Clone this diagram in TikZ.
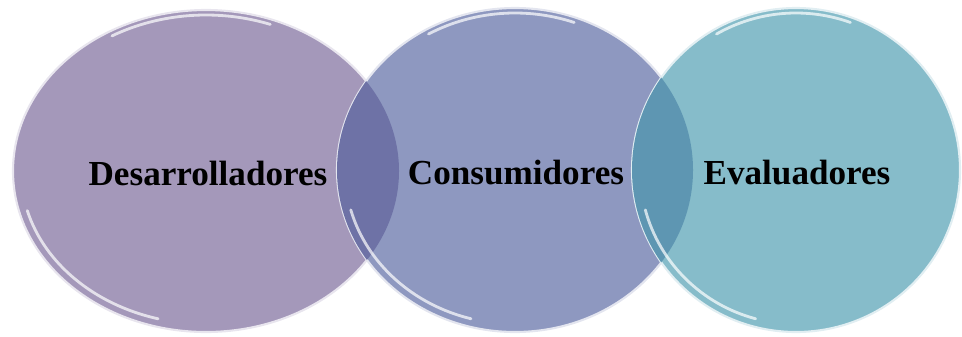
\documentclass[tikz,border=0pt]{standalone}
\usepackage{fontspec}
\setmainfont{Liberation Serif}
\usetikzlibrary{shapes.geometric}

\definecolor{devfill}{HTML}{A498BA}
\definecolor{consfill}{HTML}{8E98C0}
\definecolor{evalfill}{HTML}{86BCCA}
\definecolor{lensone}{HTML}{6E72A6}
\definecolor{lenstwo}{HTML}{5E96B2}

\begin{document}
\begin{tikzpicture}[x=0.02cm, y=0.02cm,
    bubble/.style={draw=white!75!#1, line width=1.2pt, fill=#1},
    gloss/.style={draw=white, line width=1.6pt, opacity=0.7, line cap=round},
    tag/.style={font=\fontsize{20}{24}\selectfont\bfseries, text=black}]
  \useasboundingbox (0,0) rectangle (962,336);

  % the three sets
  \draw[bubble=devfill] (206,165) ellipse [x radius=193, y radius=161];
  \draw[bubble=consfill] (515,166) ellipse [x radius=178, y radius=162];
  \begin{scope}
    \clip (206,165) ellipse [x radius=193, y radius=161];
    \fill[lensone] (515,166) ellipse [x radius=178, y radius=162];
  \end{scope}
  \draw[bubble=evalfill] (796,166) ellipse [x radius=164, y radius=162];
  \begin{scope}
    \clip (515,166) ellipse [x radius=178, y radius=162];
    \fill[lenstwo] (796,166) ellipse [x radius=164, y radius=162];
  \end{scope}

  % highlights along the rims
  \draw[gloss] (206,165) ++(195:185 and 153) arc [start angle=195, end angle=255, x radius=185, y radius=153];
  \draw[gloss] (206,165) ++(70:188 and 156) arc [start angle=70, end angle=120, x radius=188, y radius=156];
  \draw[gloss] (515,166) ++(195:170 and 154) arc [start angle=195, end angle=255, x radius=170, y radius=154];
  \draw[gloss] (515,166) ++(70:173 and 157) arc [start angle=70, end angle=120, x radius=173, y radius=157];
  \draw[gloss] (796,166) ++(195:156 and 154) arc [start angle=195, end angle=255, x radius=156, y radius=154];
  \draw[gloss] (796,166) ++(70:159 and 157) arc [start angle=70, end angle=120, x radius=159, y radius=157];

  % labels
  \node[tag] (dev) at (208,163) {Desarrolladores};
  \node[tag] (cons) at (516,163) {Consumidores};
  \node[tag] (eval) at (797,163) {Evaluadores};
\end{tikzpicture}
\end{document}
